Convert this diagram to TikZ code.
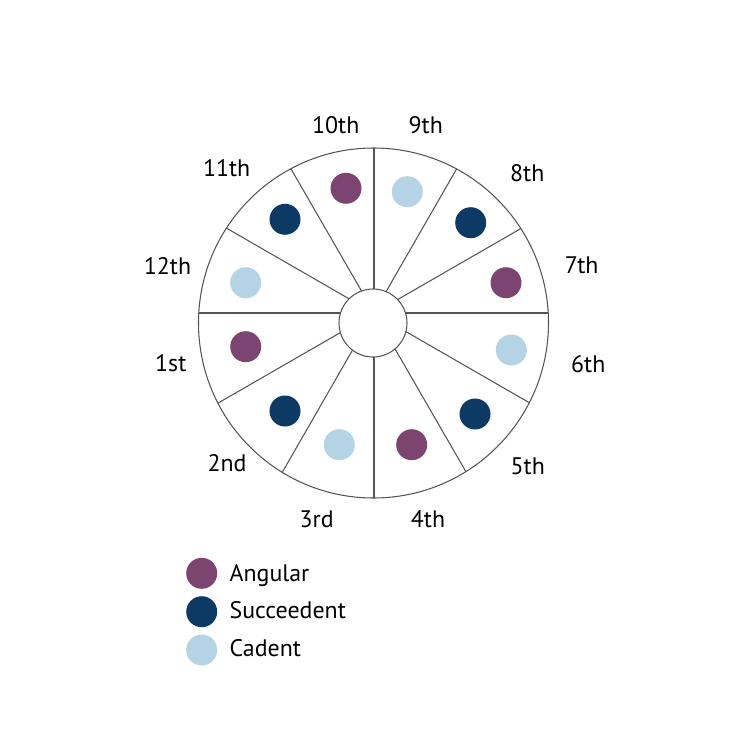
\documentclass[tikz,border=0pt]{standalone}
\usepackage{fontspec}
\setmainfont{PT Sans}
\definecolor{angular}{HTML}{7B4471}
\definecolor{succeedent}{HTML}{0C3A64}
\definecolor{cadent}{HTML}{B4D3E4}
\definecolor{rim}{HTML}{555555}
\tikzset{
  house/.style={font=\fontsize{13.6}{15}\selectfont, inner sep=0pt},
  dot/.style={circle, fill=#1, minimum size=0.62cm, inner sep=0pt},
  wheel/.style={draw=rim, line width=0.6pt}
}
\begin{document}
\begin{tikzpicture}[x=0.02cm, y=-0.02cm]
  \useasboundingbox (0,0) rectangle (750,750);
  % spokes, clipped to the rim
  \begin{scope}
    \clip (373.5,323) circle (175);
    \foreach \xa/\ya/\xb/\yb in {374/140/374/505, 287/162/469/477,
        221/225/535/406, 190/313/560/313, 213/406/527/225, 279/478/460/163}
      \draw[wheel] (\xa,\ya) -- (\xb,\yb);
  \end{scope}
  \draw[wheel] (373.5,323) circle (175);
  \draw[wheel, fill=white] (373,323) circle (34);
  % house dots
  \foreach \n/\x/\y/\c in {10/346/188.3/angular, 9/407.3/191.7/cadent,
      8/470.7/222.7/succeedent, 7/506/282.7/angular, 6/511.3/350/cadent,
      5/475/414/succeedent, 4/411.7/444.7/angular, 3/339.3/444.7/cadent,
      2/285/411/succeedent, 1/245.7/346.7/angular, 12/245.7/282.7/cadent,
      11/285/219.3/succeedent}
    \node[dot=\c] (d\n) at (\x,\y) {};
  % house labels
  \foreach \n/\x/\y/\t in {10/335.8/125/10th, 9/425.8/125/9th,
      8/527.3/172.8/8th, 7/581.7/265.7/7th, 6/588.3/364/6th,
      5/527.8/466.7/5th, 4/428/519/4th, 3/316.7/519/3rd,
      2/227/463.3/2nd, 1/170.8/363/1st, 12/167.5/266/12th,
      11/226.7/168.3/11th}
    \node[house] (h\n) at (\x,\y) {\t};
  % legend
  \node[dot=angular] (kA) at (201.7,573.3) {};
  \node[dot=succeedent] (kS) at (201.7,611.7) {};
  \node[dot=cadent] (kC) at (201.7,650) {};
  \node[house, anchor=base west] (tA) at (229.3,581.7) {Angular};
  \node[house, anchor=base west] (tS) at (229.3,618.3) {Succeedent};
  \node[house, anchor=base west] (tC) at (229.3,656.7) {Cadent};
\end{tikzpicture}
\end{document}
